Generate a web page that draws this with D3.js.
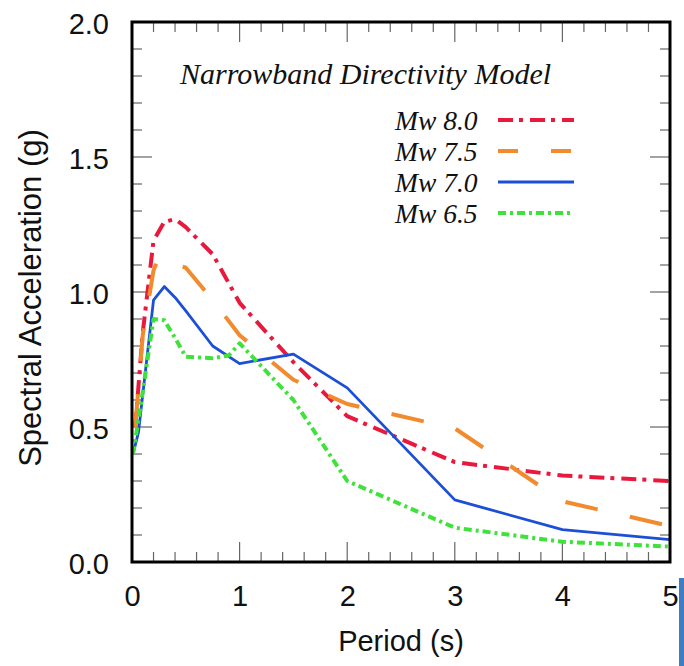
<!DOCTYPE html>
<html>
<head>
<meta charset="utf-8">
<script src="https://cdn.jsdelivr.net/npm/d3@7"></script>
<style>
  html, body { margin: 0; padding: 0; background: #fff; }
  svg { display: block; }
</style>
</head>
<body>
<div id="chart"></div>
<script>
// ---- Data ----
const title = "Narrowband Directivity Model";
const xLabel = "Period (s)";
const yLabel = "Spectral Acceleration (g)";
const xTicks = [0, 1, 2, 3, 4, 5];
const yTicks = [0.0, 0.5, 1.0, 1.5, 2.0];
const seriesNames = ["Mw 8.0", "Mw 7.5", "Mw 7.0", "Mw 6.5"];

const periods80 = [0.03, 0.1, 0.2, 0.3, 0.4, 0.5, 0.75, 1.0, 1.5, 2.0, 3.0, 4.0, 5.0];
const sa80      = [0.50, 0.85, 1.19, 1.26, 1.27, 1.24, 1.14, 0.96, 0.74, 0.54, 0.37, 0.32, 0.30];

const periods75 = [0.03, 0.1, 0.2, 0.25, 0.3, 0.5, 0.75, 1.0, 1.5, 2.0, 3.0, 4.0, 5.0];
const sa75      = [0.50, 0.84, 1.08, 1.13, 1.12, 1.09, 0.97, 0.84, 0.675, 0.585, 0.495, 0.225, 0.133];

const periods70 = [0.01, 0.06, 0.2, 0.3, 0.4, 0.5, 0.75, 1.0, 1.5, 2.0, 3.0, 4.0, 5.0];
const sa70      = [0.40, 0.48, 0.97, 1.02, 0.98, 0.93, 0.80, 0.735, 0.77, 0.645, 0.23, 0.12, 0.083];

const periods65 = [0.01, 0.1, 0.2, 0.3, 0.4, 0.5, 0.75, 0.9, 1.0, 1.5, 2.0, 3.0, 4.0, 5.0];
const sa65      = [0.40, 0.63, 0.90, 0.895, 0.83, 0.76, 0.755, 0.765, 0.81, 0.60, 0.30, 0.127, 0.075, 0.057];

// ---- Styles ----
const styles = [
  { color: "#e8193c", width: 4,   dash: "15,6,4,7" },
  { color: "#f28a2e", width: 4,   dash: "33,33" },
  { color: "#1c4fd8", width: 2.8, dash: null },
  { color: "#3fe23a", width: 4,   dash: "8,4,3,4" }
];

const seriesData = [
  periods80.map((p, i) => ({ x: p, y: sa80[i] })),
  periods75.map((p, i) => ({ x: p, y: sa75[i] })),
  periods70.map((p, i) => ({ x: p, y: sa70[i] })),
  periods65.map((p, i) => ({ x: p, y: sa65[i] }))
];

const W = 684, H = 666;
const mLeft = 132, mRight = 670, mTop = 22, mBottom = 562;

const svg = d3.select("#chart").append("svg")
  .attr("width", W).attr("height", H);

const x = d3.scaleLinear().domain([0, 5]).range([mLeft, mRight]);
const y = d3.scaleLinear().domain([0, 2]).range([mBottom, mTop]);

const sans = "Helvetica, Arial, 'Liberation Sans', sans-serif";
const serif = "'Times New Roman', 'Liberation Serif', Times, serif";

// clip
svg.append("defs").append("clipPath").attr("id", "clip")
  .append("rect").attr("x", mLeft).attr("y", mTop)
  .attr("width", mRight - mLeft).attr("height", mBottom - mTop);

// ---- Ticks (inward on all four sides) ----
const tickColor = "#666";
const minorX = d3.range(0, 5.0001, 0.2).map(v => +v.toFixed(2));
const minorY = d3.range(0, 2.0001, 0.1).map(v => +v.toFixed(2));
const isMajorX = v => Math.abs(v - Math.round(v)) < 1e-6;
const isMajorY = v => Math.abs(v * 2 - Math.round(v * 2)) < 1e-6;

const tg = svg.append("g");
minorX.forEach(v => {
  const len = isMajorX(v) ? 20 : 10;
  tg.append("line").attr("x1", x(v)).attr("x2", x(v))
    .attr("y1", mBottom).attr("y2", mBottom - len)
    .attr("stroke", tickColor).attr("stroke-width", 1.2);
  tg.append("line").attr("x1", x(v)).attr("x2", x(v))
    .attr("y1", mTop).attr("y2", mTop + len)
    .attr("stroke", tickColor).attr("stroke-width", 1.2);
});
minorY.forEach(v => {
  const len = isMajorY(v) ? 20 : 10;
  tg.append("line").attr("x1", mLeft).attr("x2", mLeft + len)
    .attr("y1", y(v)).attr("y2", y(v))
    .attr("stroke", tickColor).attr("stroke-width", 1.2);
  tg.append("line").attr("x1", mRight).attr("x2", mRight - len)
    .attr("y1", y(v)).attr("y2", y(v))
    .attr("stroke", tickColor).attr("stroke-width", 1.2);
});

// ---- Tick labels via d3 axes (text only) ----
const xAxis = d3.axisBottom(x).tickValues(xTicks).tickSize(0).tickPadding(0)
  .tickFormat(d3.format("d"));
const gx = svg.append("g").attr("transform", `translate(0,${mBottom})`).call(xAxis);
gx.select(".domain").remove();
gx.selectAll("text").attr("font-family", sans).attr("font-size", 29)
  .attr("fill", "#111").attr("dy", null).attr("y", 44);

const yAxis = d3.axisLeft(y).tickValues(yTicks).tickSize(0).tickPadding(0)
  .tickFormat(d3.format(".1f"));
const gy = svg.append("g").attr("transform", `translate(${mLeft},0)`).call(yAxis);
gy.select(".domain").remove();
gy.selectAll("text").attr("font-family", sans).attr("font-size", 29)
  .attr("fill", "#111").attr("x", -23).attr("dy", "0.4em");

// ---- Series ----
const line = d3.line().x(d => x(d.x)).y(d => y(d.y));
const lg = svg.append("g").attr("clip-path", "url(#clip)");
seriesData.forEach((data, i) => {
  const s = styles[i];
  lg.append("path").datum(data)
    .attr("d", line)
    .attr("fill", "none")
    .attr("stroke", s.color)
    .attr("stroke-width", s.width)
    .attr("stroke-linejoin", "round")
    .attr("stroke-dasharray", s.dash);
});

// ---- Frame ----
svg.append("rect").attr("x", mLeft).attr("y", mTop)
  .attr("width", mRight - mLeft).attr("height", mBottom - mTop)
  .attr("fill", "none").attr("stroke", "#000").attr("stroke-width", 3);

// ---- Title & legend ----
svg.append("text").attr("x", 180).attr("y", 84)
  .attr("font-family", serif).attr("font-style", "italic")
  .attr("font-size", 30).attr("fill", "#111").text(title);

const legendY = [130, 161, 192, 223];
seriesNames.forEach((name, i) => {
  const s = styles[i];
  svg.append("text").attr("x", 395).attr("y", legendY[i])
    .attr("font-family", serif).attr("font-style", "italic")
    .attr("font-size", 27.5).attr("fill", "#111").text(name);
  svg.append("line").attr("x1", 498).attr("x2", 574)
    .attr("y1", legendY[i] - 10).attr("y2", legendY[i] - 10)
    .attr("stroke", s.color).attr("stroke-width", s.width)
    .attr("stroke-dasharray", i === 1 ? "20,33" : s.dash);
});

// ---- Axis titles ----
svg.append("text").attr("x", (mLeft + mRight) / 2).attr("y", 651)
  .attr("text-anchor", "middle").attr("font-family", sans)
  .attr("font-size", 29).attr("fill", "#111").text(xLabel);

svg.append("text")
  .attr("transform", `translate(41,${298}) rotate(-90)`)
  .attr("text-anchor", "middle").attr("font-family", sans)
  .attr("font-size", 31).attr("fill", "#111").text(yLabel);

// blue strip at the right-bottom edge (present in reference)
svg.append("rect").attr("x", 679).attr("y", 578)
  .attr("width", 5).attr("height", H - 578).attr("fill", "#3c7dc3");
</script>
</body>
</html>
